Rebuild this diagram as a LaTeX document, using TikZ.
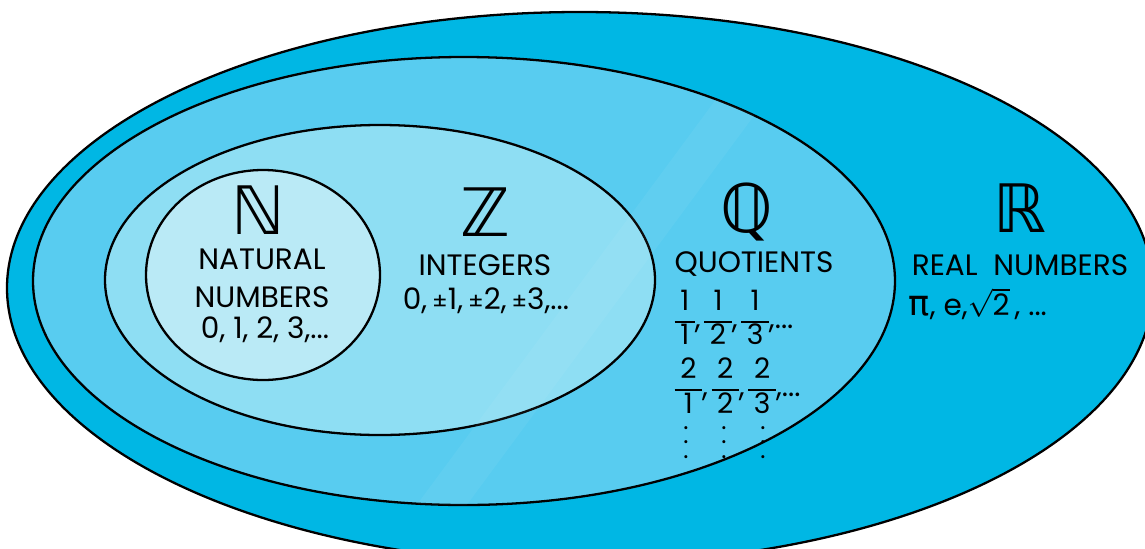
\documentclass[tikz,border=0pt]{standalone}
\usepackage{fontspec}
\setmainfont{Poppins}
\newfontfamily\djv{DejaVu Sans}
\definecolor{Rcol}{RGB}{0,183,228}
\definecolor{Qcol}{RGB}{88,204,240}
\definecolor{Zcol}{RGB}{142,222,243}
\definecolor{Ncol}{RGB}{186,234,246}
\newcommand{\fr}[2]{\begingroup\fontsize{8}{6.6}\selectfont\setlength{\tabcolsep}{1.6pt}\setlength{\arrayrulewidth}{0.6pt}$\vcenter{\hbox{\begin{tabular}{c}#1\\[1pt]\hline\rule{0pt}{6.2pt}#2\end{tabular}}}$\endgroup}
\tikzset{
  setell/.style={draw=black, line width=0.65pt},
  sym/.style={font=\djv\fontsize{19}{19}\selectfont, inner sep=0pt},
  lbl/.style={font=\fontsize{8.4}{10}\selectfont, inner sep=0pt, align=center},
  dots/.style={lbl, font=\fontsize{7}{7}\selectfont},
}
\begin{document}
\begin{tikzpicture}[x=0.01cm,y=-0.01cm]
\useasboundingbox (0,0) rectangle (1145,548);
\clip (0,0) rectangle (1145,548);
\fill[white] (0,0) rectangle (1145,548);
% sets
\draw[setell, fill=Rcol] (580,288) ellipse [x radius=573, y radius=276];
\draw[setell, fill=Qcol] (464,281) ellipse [x radius=431, y radius=224];
\draw[setell, fill=Zcol] (380,280) ellipse [x radius=275, y radius=155];
\draw[setell, fill=Ncol] (263,275) ellipse [x radius=117, y radius=105];
% faint light streak
\begin{scope}
\clip (464,281) ellipse [x radius=431, y radius=224];
\fill[white, opacity=0.05] (385,548) -- (435,548) -- (795,60) -- (745,60) -- cycle;
\end{scope}
% N
\node[sym] (Nsym) at (258,210) {ℕ};
\node[lbl] (Nname1) at (262,259) {NATURAL};
\node[lbl] (Nname2) at (262,297) {NUMBERS};
\node[lbl] (Nex) at (265,330) {0, 1, 2, 3,...};
% Z
\node[sym] (Zsym) at (485,212) {ℤ};
\node[lbl] (Zname) at (485,265) {INTEGERS};
\node[lbl] (Zex) at (486,301) {0,\,{\fontsize{6.5}{7}\selectfont ±}1,\,{\fontsize{6.5}{7}\selectfont ±}2,\,{\fontsize{6.5}{7}\selectfont ±}3,...};
% Q
\node[sym] (Qsym) at (747,212) {ℚ};
\node[lbl] (Qname) at (754,264) {QUOTIENTS};
\node[lbl, anchor=west] (Qr1) at (674,321) {\fr{1}{1},\kern1pt\fr{1}{2},\kern1pt\fr{1}{3},...};
\node[lbl, anchor=west] (Qr2) at (674,389) {\fr{2}{1},\kern1pt\fr{2}{2},\kern1pt\fr{2}{3},...};
\node[dots] (Qd1) at (686,432) {$\vdots$};
\node[dots] (Qd2) at (724,432) {$\vdots$};
\node[dots] (Qd3) at (763,432) {$\vdots$};
% R
\node[sym] (Rsym) at (1020,208) {ℝ};
\node[lbl] (Rname) at (1020,265) {REAL\ \ NUMBERS};
\node[lbl, anchor=west] (Rex) at (908,304) {{\djv\fontsize{10}{10}\selectfont π}, e,$\sqrt{\mbox{2}}$\,, ...};
\end{tikzpicture}
\end{document}
